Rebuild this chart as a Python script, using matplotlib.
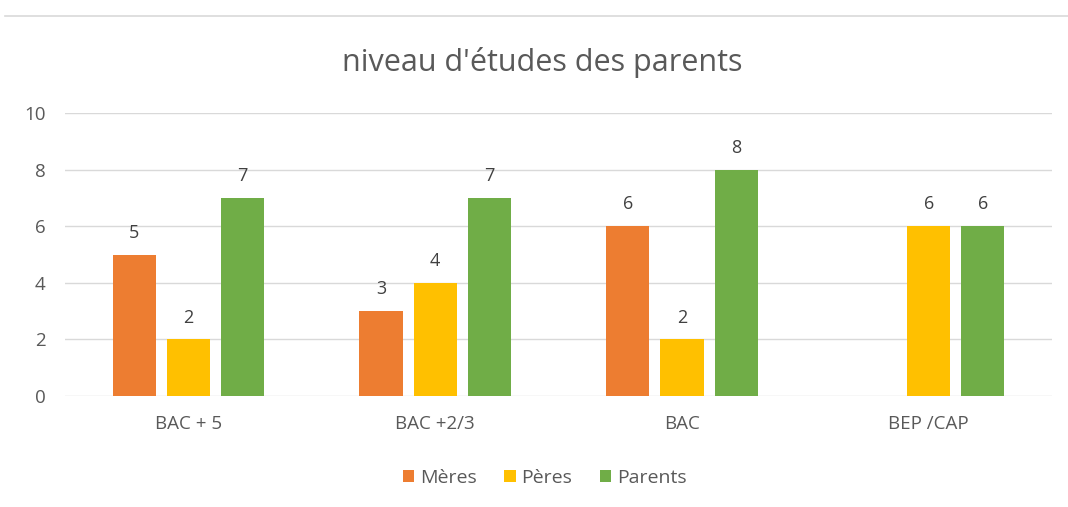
import numpy as np
import matplotlib.pyplot as plt
from matplotlib.lines import Line2D

categories = ["BAC + 5", "BAC +2/3", "BAC", "BEP /CAP"]
meres = [5, 3, 6, 0]
peres = [2, 4, 2, 6]
parents = [7, 7, 8, 6]
series_names = ["Mères", "Pères", "Parents"]

colours = ["#ED7D31", "#FFC000", "#70AD47"]
grey = "#595959"

plt.rcParams['font.family'] = ['Open Sans', 'DejaVu Sans']

fig = plt.figure(figsize=(10.68, 5.07), dpi=100)
ax = fig.add_axes([0.061, 0.219, 0.924, 0.558])

x = np.arange(len(categories))
w = 0.175
off = 0.22
for i, (vals, col) in enumerate(zip([meres, peres, parents], colours)):
    pos = x + (i - 1) * off
    bars = ax.bar(pos, vals, width=w, color=col, label=series_names[i], zorder=3)
    for xp, v in zip(pos, vals):
        if v == 0:
            continue  # pas de barre -> pas d'etiquette
        ax.text(xp, v + 0.45, str(v), ha="center", va="bottom", fontsize=13, color="#404040")

ax.set_xlim(-0.5, 3.5)
ax.set_ylim(0, 10)
ax.set_yticks(range(0, 11, 2))
ax.set_xticks(x)
ax.set_xticklabels(categories)
ax.tick_params(axis="both", length=0, labelsize=13.5, labelcolor=grey)
ax.tick_params(axis="x", pad=14)
ax.tick_params(axis="y", pad=14)
ax.grid(axis="y", color="#D9D9D9", linewidth=1, zorder=0)
for s in ax.spines.values():
    s.set_visible(False)

fig.text(0.508, 0.877, "niveau d'études des parents", ha="center", va="center",
         fontsize=22, color=grey)

fig.add_artist(Line2D([0.005, 1.0], [0.968, 0.968], color="#D9D9D9", linewidth=1.2,
                      transform=fig.transFigure))

ax.legend(loc="center", bbox_to_anchor=(0.51, 0.057), bbox_transform=fig.transFigure,
          ncol=3, frameon=False, fontsize=14, handlelength=0.6, handleheight=0.6,
          handletextpad=0.3, columnspacing=1.4, labelcolor=grey)

plt.savefig("out.png", dpi=100)
